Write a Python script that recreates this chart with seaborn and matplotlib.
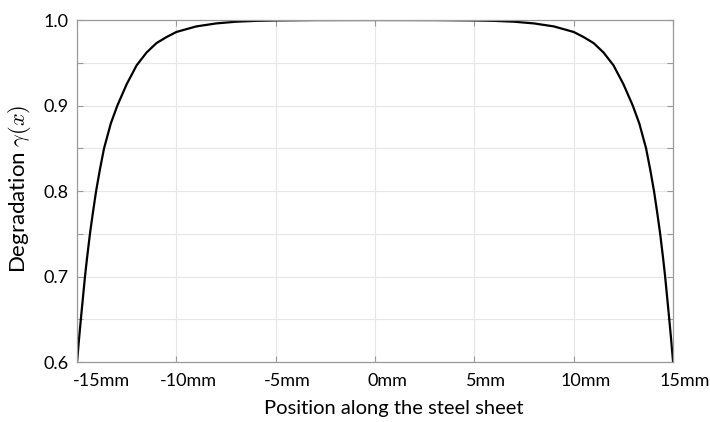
import numpy as np
import pandas as pd
import seaborn as sns
import matplotlib.pyplot as plt
import matplotlib.transforms as mtransforms
from matplotlib.ticker import MultipleLocator

# Werte (linke Hälfte, symmetrisch gespiegelt)
pos_left = [-15.0, -14.9, -14.8, -14.7, -14.6, -14.5, -14.35, -14.2, -14.04,
            -13.85, -13.64, -13.3, -12.97, -12.5, -12.0, -11.5, -11.0, -10.5,
            -10.0, -9.0, -8.0, -7.0, -6.0, -5.0, -3.0, 0.0]
deg_left = [0.600, 0.627, 0.652, 0.676, 0.700, 0.721, 0.750, 0.775, 0.800,
            0.825, 0.850, 0.879, 0.900, 0.925, 0.947, 0.962, 0.973, 0.980,
            0.986, 0.9925, 0.996, 0.998, 0.999, 0.9995, 0.9999, 1.0]

x_ticks = [-15, -10, -5, 0, 5, 10, 15]
x_tick_labels = ['-15mm', '-10mm', '-5mm', '0mm', '5mm', '10mm', '15mm']
y_ticks = [0.6, 0.7, 0.8, 0.9, 1.0]

positions = pos_left + [-p for p in pos_left[-2::-1]]
degradation = deg_left + deg_left[-2::-1]
df = pd.DataFrame({'pos': positions, 'deg': degradation})

sns.set_theme(style='whitegrid')
plt.rcParams['font.family'] = ['Lato', 'DejaVu Sans']
plt.rcParams['mathtext.fontset'] = 'cm'

fig = plt.figure(figsize=(7.1, 4.22), dpi=100)
ax = fig.add_axes([0.1085, 0.142, 0.8395, 0.8106])

sns.lineplot(data=df, x='pos', y='deg', color='black', linewidth=1.6, ax=ax, sort=False)

ax.set_xlim(-15, 15)
ax.set_ylim(0.6, 1.0)
ax.set_xticks(x_ticks)
ax.set_xticklabels(x_tick_labels)
ax.set_yticks(y_ticks)
ax.set_yticklabels([f'{v:.1f}' for v in y_ticks])
ax.yaxis.set_minor_locator(MultipleLocator(0.05))

# Gitter und Rahmen
ax.grid(which='major', color='#e6e6e6', linewidth=0.8)
ax.grid(which='minor', axis='y', color='#e6e6e6', linewidth=0.8)
for sp in ax.spines.values():
    sp.set_color('#9a9a9a')
    sp.set_linewidth(0.9)

ax.tick_params(which='both', direction='in', color='#9a9a9a', width=0.8,
               top=True, right=True, bottom=True, left=True, labelsize=13,
               labelcolor='black')
ax.tick_params(which='major', length=4)
ax.tick_params(which='minor', length=4)
ax.tick_params(axis='x', pad=8)
ax.tick_params(axis='y', pad=6)

# Beschriftungen im Original leicht nach rechts versetzt
for i, lbl in enumerate(ax.get_xticklabels()):
    dx = 24 if i == 0 else 12
    lbl.set_transform(lbl.get_transform() + mtransforms.ScaledTranslation(dx / 100, 0, fig.dpi_scale_trans))

ax.set_xlabel('Position along the steel sheet', fontsize=14.5, color='black')
ax.xaxis.set_label_coords(0.532, -0.11)
ax.set_ylabel(r'Degradation $\gamma(x)$', fontsize=16, color='black')
ax.yaxis.set_label_coords(-0.074, 0.505)

fig.savefig('out.png', dpi=100)
